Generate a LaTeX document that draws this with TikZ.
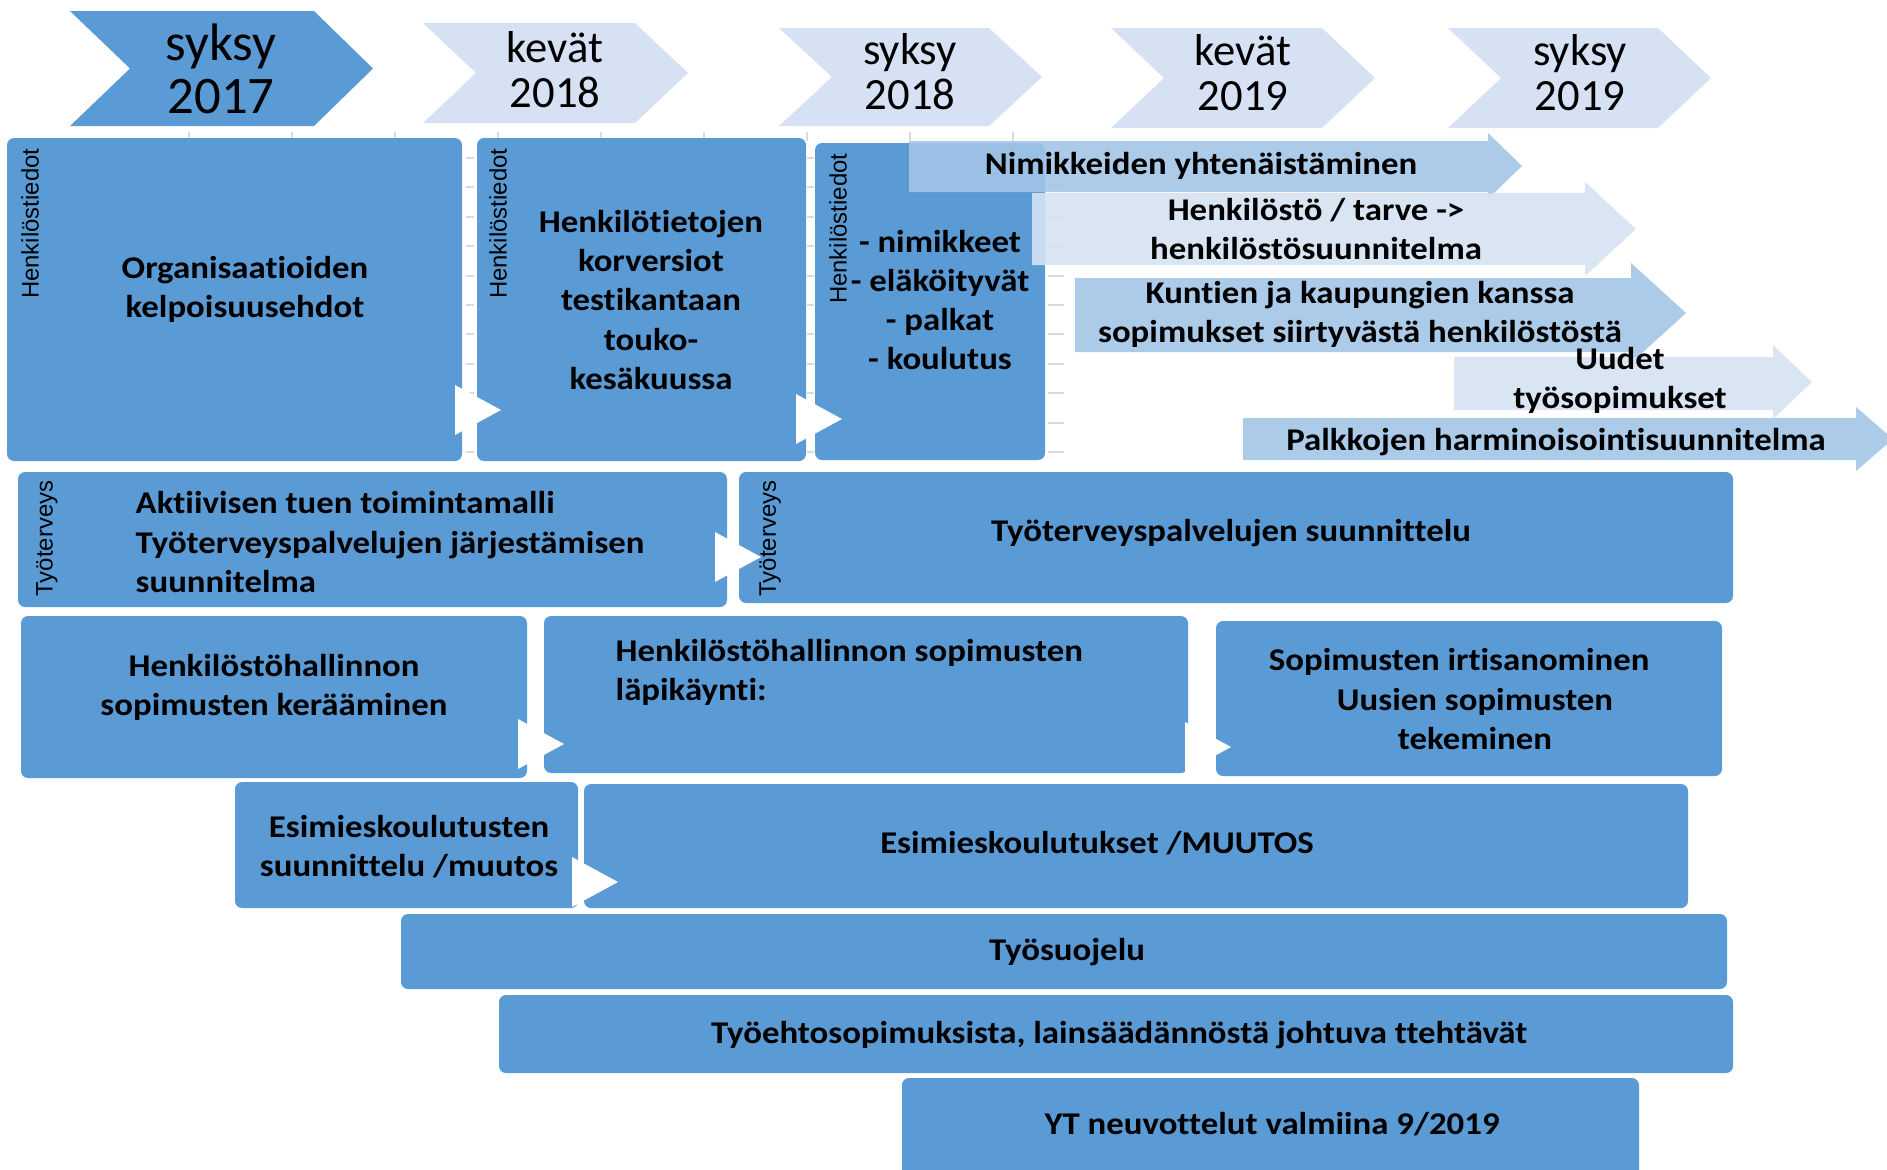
\documentclass[tikz,border=0pt]{standalone}
\usepackage{fontspec}
\setmainfont{Carlito}
\newfontfamily\boxfont{Carlito}[FakeStretch=1.1, Ligatures=CommonOff]
\newfontfamily\sidefont{Liberation Sans}
\definecolor{boxblue}{HTML}{5B9BD5}
\definecolor{paleblue}{HTML}{D6E2F3}
\definecolor{midblue}{HTML}{A3C5E7}
\definecolor{tickgray}{HTML}{DADADA}

\begin{document}
\begin{tikzpicture}[x=0.01cm, y=-0.01cm,
	box/.style={fill=boxblue, rounded corners=2pt},
	pointer/.style={fill=white},
	boxtext/.style={font=\boxfont\fontsize{9}{11.1}\selectfont\bfseries, align=center, inner sep=0pt},
	sidelabel/.style={font=\sidefont\fontsize{6.8}{8}\selectfont, rotate=90, anchor=east, inner sep=0pt},
	season/.style={font=\fontsize{12.7}{12.8}\selectfont, align=center, inner sep=0pt},
	axistick/.style={draw=tickgray, line width=0.6pt}]
	\useasboundingbox (0,0) rectangle (1887,1169);
	\clip (0,0) rectangle (1887,1169);

	% faint axis ticks behind everything
	\foreach \x in {189,292,...,1014}
		\draw[axistick] (\x,132) -- (\x,141);
	\foreach \y in {158,187.4,...,453} {
		\draw[axistick] (466,\y) -- (474,\y);
		\draw[axistick] (807,\y) -- (814,\y);
		\draw[axistick] (1048,\y) -- (1064,\y);
	}

	% seasons
	\fill[boxblue] (70,11) -- (314,11) -- (373,68.5) -- (314,126) -- (70,126) -- (130,68.5) -- cycle;
	\foreach \xa/\xb/\ya/\yb in {423/688/23/123, 779/1042/28/126, 1111/1375/28/128, 1448/1711/28/128}
		\fill[paleblue] (\xa,\ya) -- ({\xb-53},\ya) -- (\xb,{(\ya+\yb)/2}) -- ({\xb-53},\yb) -- (\xa,\yb) -- ({\xa+53},{(\ya+\yb)/2}) -- cycle;
	\node[season, font=\fontsize{15}{15.2}\selectfont] (syksy17) at (221,69) {syksy\\2017};
	\node[season] (kevat18) at (555,70) {kevät\\2018};
	\node[season] (syksy18) at (910,72) {syksy\\2018};
	\node[season] (kevat19) at (1243,73) {kevät\\2019};
	\node[season] (syksy19) at (1580,73) {syksy\\2019};

	% boxes
	\fill[box] (7,138) rectangle (462,461);
	\fill[box] (477,138) rectangle (806,461);
	\fill[box] (815,143) rectangle (1045,460);
	\fill[box] (18,472) rectangle (727,607);
	\fill[box] (739,472) rectangle (1733,603);
	\fill[box] (21,616) rectangle (527,778);
	\fill[box] (544,616) rectangle (1188,773);
	\fill[box] (1216,621) rectangle (1722,776);
	\fill[box] (235,782) rectangle (578,908);
	\fill[box] (584,784) rectangle (1688,908);
	\fill[box] (401,914) rectangle (1727,989);
	\fill[box] (499,995) rectangle (1733,1073);
	\fill[box] (902,1078) rectangle (1639,1200);

	% block arrows
	\foreach \xa/\xh/\ya/\yb/\ha/\hb/\xt/\col in {909/1488/141/192/133/199/1522/midblue,
			1032/1585/193/265/182/276/1636/paleblue, 1075/1631/278/352/263/363/1686/midblue,
			1454/1773/357/410/345/419/1812/paleblue, 1243/1856/418/460/407/471/1893/midblue}
		\fill[\col, fill opacity=0.9] (\xa,\ya) -- (\xh,\ya) -- (\xh,\ha) -- (\xt,{(\ha+\hb)/2})
			-- (\xh,\hb) -- (\xh,\yb) -- (\xa,\yb) -- cycle;

	% white pointers
	\foreach \x/\y in {455/410, 796/419, 715/557, 518/744, 1185/747, 572/882}
		\fill[pointer] (\x,{\y-25}) -- ({\x+46},\y) -- (\x,{\y+25}) -- cycle;

	% side labels
	\node[sidelabel] (henklabA) at (30,148) {Henkilöstiedot};
	\node[sidelabel] (henklabB) at (498,148) {Henkilöstiedot};
	\node[sidelabel] (henklabC) at (838,153) {Henkilöstiedot};
	\node[sidelabel] (tthlabD) at (47,480) {Työterveys};
	\node[sidelabel] (tthlabE) at (770,480) {Työterveys};

	% texts
	\node[boxtext] (orgtext) at (245,289) {Organisaatioiden\\kelpoisuusehdot};
	\node[boxtext] (henktext) at (651,300) {Henkilötietojen\\korversiot\\testikantaan\\touko-\\kesäkuussa};
	\node[boxtext] (listtext) at (940,300) {- nimikkeet\\- eläköityvät\\- palkat\\- koulutus};
	\node[boxtext] (nimtext) at (1201,166) {Nimikkeiden yhtenäistäminen};
	\node[boxtext] (tarvetext) at (1316,229) {Henkilöstö / tarve ->\\henkilöstösuunnitelma};
	\node[boxtext] (kuntatext) at (1360,314) {Kuntien ja kaupungien kanssa\\sopimukset siirtyvästä henkilöstöstä};
	\node[boxtext] (uudettext) at (1620,380) {Uudet\\työsopimukset};
	\node[boxtext] (palkkatext) at (1556,442) {Palkkojen harminoisointisuunnitelma};
	\node[boxtext, align=left, anchor=west] (aktiivitext) at (135,542) {Aktiivisen tuen toimintamalli\\Työterveyspalvelujen järjestämisen\\suunnitelma};
	\node[boxtext] (tthtext) at (1231,533) {Työterveyspalvelujen suunnittelu};
	\node[boxtext] (keraatext) at (274,687) {Henkilöstöhallinnon\\sopimusten kerääminen};
	\node[boxtext, align=left, anchor=west] (lapitext) at (615,672) {Henkilöstöhallinnon sopimusten\\läpikäynti:};
	\node[boxtext] (irtitext) at (1475,699) {Sopimusten irtisanominen\hspace*{1em}\\Uusien sopimusten\\tekeminen};
	\node[boxtext] (esisuuntext) at (409,847) {Esimieskoulutusten\\suunnittelu /muutos};
	\node[boxtext] (esitext) at (1097,843) {Esimieskoulutukset /MUUTOS};
	\node[boxtext] (suojelutext) at (1067,952) {Työsuojelu};
	\node[boxtext] (tesstext) at (1119,1035) {Työehtosopimuksista, lainsäädännöstä johtuva ttehtävät};
	\node[boxtext] (yttext) at (1272,1124) {YT neuvottelut valmiina 9/2019};

\end{tikzpicture}
\end{document}
